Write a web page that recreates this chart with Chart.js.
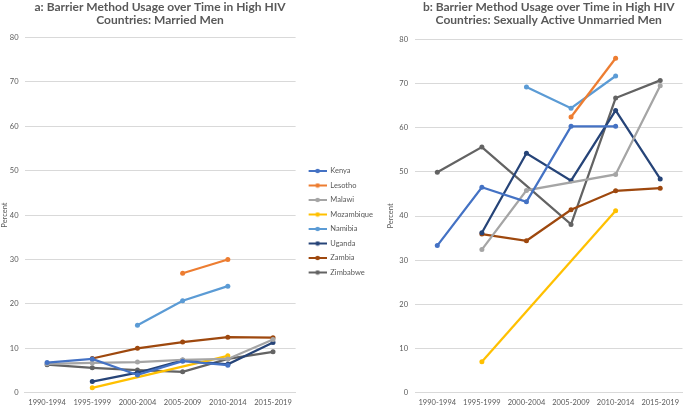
<!DOCTYPE html>
<html>
<head>
<meta charset="utf-8">
<script src="https://cdn.jsdelivr.net/npm/chart.js@4.4.1/dist/chart.umd.min.js"></script>
<style>
  body { margin: 0; background: #fff; }
  .box { position: absolute; top: 0; height: 406px; }
  #boxA { left: 0; width: 383px; }
  #boxB { left: 380px; width: 305px; }
</style>
</head>
<body>
<div class="box" id="boxA"><canvas id="chartA"></canvas></div>
<div class="box" id="boxB"><canvas id="chartB"></canvas></div>
<script>
const periods = ['1990-1994', '1995-1999', '2000-2004', '2005-2009', '2010-2014', '2015-2019'];
const yTicks = [0, 10, 20, 30, 40, 50, 60, 70, 80];

const countries = ['Kenya', 'Lesotho', 'Malawi', 'Mozambique', 'Namibia', 'Uganda', 'Zambia', 'Zimbabwe'];
const colors = ['#4472c4', '#ed7d31', '#a5a5a5', '#ffc000', '#5b9bd5', '#264478', '#9e480e', '#636363'];

// a: married men
const kenyaA      = [6.8, 7.6, 4.0, 7.1, 6.2, null];
const lesothoA    = [null, null, null, 26.9, 30.0, null];
const malawiA     = [6.5, 6.7, 6.9, 7.4, 7.6, 12.0];
const mozambiqueA = [null, 1.1, null, null, 8.3, null];
const namibiaA    = [null, null, 15.2, 20.7, 24.0, null];
const ugandaA     = [null, 2.5, 4.5, 7.3, 6.4, 11.3];
const zambiaA     = [null, 7.7, 10.0, 11.4, 12.5, 12.4];
const zimbabweA   = [6.3, 5.6, 5.1, 4.7, 7.6, 9.2];

// b: sexually active unmarried men
const kenyaB      = [33.3, 46.5, 43.2, 60.3, 60.3, null];
const lesothoB    = [null, null, null, 62.4, 75.7, null];
const malawiB     = [null, 32.4, 45.8, null, 49.4, 69.5];
const mozambiqueB = [null, 7.0, null, null, 41.2, null];
const namibiaB    = [null, null, 69.2, 64.4, 71.7, null];
const ugandaB     = [null, 36.2, 54.2, 48.0, 63.9, 48.4];
const zambiaB     = [null, 35.9, 34.4, 41.4, 45.7, 46.3];
const zimbabweB   = [49.9, 55.6, null, 38.1, 66.7, 70.7];

const seriesA = [kenyaA, lesothoA, malawiA, mozambiqueA, namibiaA, ugandaA, zambiaA, zimbabweA];
const seriesB = [kenyaB, lesothoB, malawiB, mozambiqueB, namibiaB, ugandaB, zambiaB, zimbabweB];

const titleA = ['a: Barrier Method Usage over Time in High HIV', 'Countries: Married Men'];
const titleB = ['b: Barrier Method Usage over Time in High HIV', 'Countries: Sexually Active Unmarried Men'];

const FONT = 'Lato, "Open Sans", sans-serif';
const GREY = '#595959';

function makeDatasets(series) {
    return series.map((data, i) => ({
        label: countries[i],
        data: data,
        borderColor: colors[i],
        backgroundColor: colors[i],
        borderWidth: 2.25,
        pointRadius: 2.5,
        pointHoverRadius: 2.5,
        pointBorderWidth: 0,
        tension: 0,
        spanGaps: true
    }));
}

// small line+dot icon for the legend, like the spreadsheet one
function legendIcon(color) {
    const c = document.createElement('canvas');
    c.width = 24; c.height = 6;
    const g = c.getContext('2d');
    g.strokeStyle = color;
    g.lineWidth = 2;
    g.beginPath(); g.moveTo(6, 3); g.lineTo(24, 3); g.stroke();
    g.fillStyle = color;
    g.beginPath(); g.arc(15, 3, 2.3, 0, Math.PI * 2); g.fill();
    return c;
}

// title centred over the plot area
const plotTitle = {
    id: 'plotTitle',
    afterDraw(chart, args, opts) {
        const ctx = chart.ctx;
        const cx = (chart.chartArea.left + chart.chartArea.right) / 2;
        ctx.save();
        ctx.font = 'bold 12px ' + FONT;
        ctx.fillStyle = GREY;
        ctx.textAlign = 'center';
        ctx.textBaseline = 'middle';
        opts.lines.forEach((t, i) => ctx.fillText(t, cx, 7 + i * 13.5));
        ctx.restore();
    }
};

function makeOptions(lines, showLegend, pad, yWidth, yPad) {
    return {
        responsive: true,
        maintainAspectRatio: false,
        animation: false,
        layout: { padding: pad },
        plugins: {
            plotTitle: { lines: lines },
            title: { display: false },
            tooltip: { enabled: false },
            legend: {
                display: showLegend,
                position: 'right',
                align: 'center',
                labels: {
                    usePointStyle: true,
                    pointStyleWidth: 24,
                    padding: 7,
                    color: GREY,
                    font: { size: 7.5, family: FONT },
                    generateLabels: function(chart) {
                        return Chart.defaults.plugins.legend.labels.generateLabels(chart).map(l => {
                            l.pointStyle = legendIcon(colors[l.datasetIndex]);
                            return l;
                        });
                    }
                }
            }
        },
        scales: {
            x: {
                offset: true,
                afterFit: function(axis) { axis.height = 13.3; },
                grid: { display: false, drawTicks: false },
                border: { display: true, color: '#d9d9d9' },
                ticks: {
                    color: GREY,
                    padding: 5.5,
                    autoSkip: false,
                    maxRotation: 0,
                    minRotation: 0,
                    font: { size: 7.5, family: FONT }
                }
            },
            y: {
                min: 0,
                max: 80,
                afterBuildTicks: function(axis) {
                    axis.ticks = yTicks.map(v => ({ value: v }));
                },
                afterFit: function(axis) { axis.width = yWidth; },
                grid: { color: '#d9d9d9', drawTicks: false },
                border: { display: false },
                title: {
                    display: true,
                    text: 'Percent',
                    color: GREY,
                    padding: { top: 0, bottom: 2 },
                    font: { size: 7.5, family: FONT }
                },
                ticks: {
                    color: GREY,
                    padding: yPad,
                    font: { size: 7.5, family: FONT }
                }
            }
        }
    };
}

new Chart(document.getElementById('chartA'), {
    type: 'line',
    data: { labels: periods, datasets: makeDatasets(seriesA) },
    options: makeOptions(titleA, true, { top: 37.5, bottom: 0, left: 0.5, right: 0 }, 24, 6),
    plugins: [plotTitle]
});

new Chart(document.getElementById('chartB'), {
    type: 'line',
    data: { labels: periods, datasets: makeDatasets(seriesB) },
    options: makeOptions(titleB, false, { top: 39.3, bottom: 0, left: 6.5, right: -1 }, 28.5, 7),
    plugins: [plotTitle]
});
</script>
</body>
</html>
